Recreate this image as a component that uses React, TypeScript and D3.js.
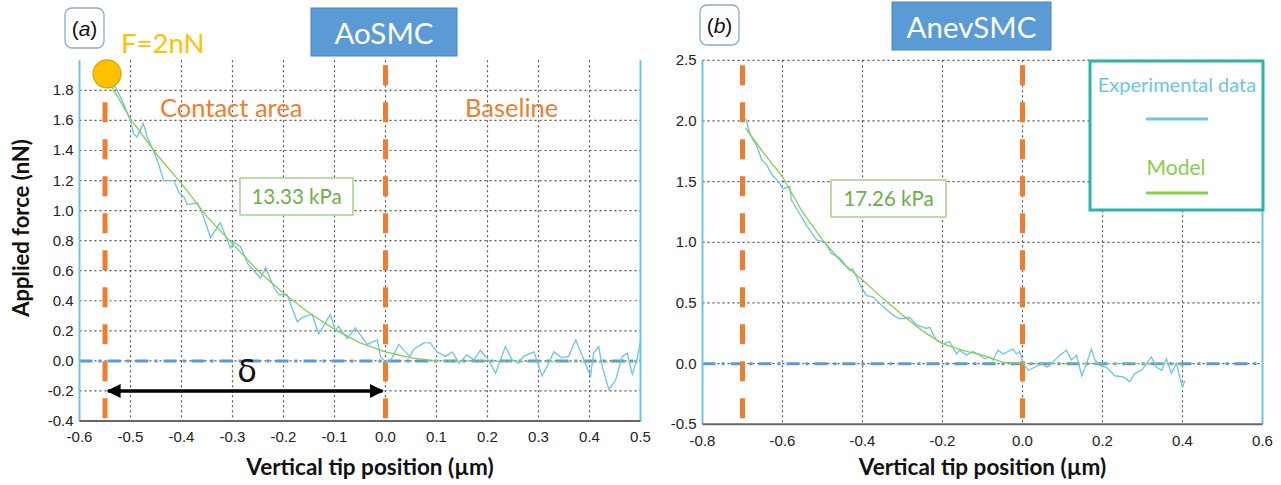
import * as d3 from 'd3';

// panel (a) AoSMC
const xTicksA = [-0.6, -0.5, -0.4, -0.3, -0.2, -0.1, 0.0, 0.1, 0.2, 0.3, 0.4, 0.5];
const yTicksA = [-0.4, -0.2, 0.0, 0.2, 0.4, 0.6, 0.8, 1.0, 1.2, 1.4, 1.6, 1.8];
const expA: [number, number][] = [
    [-0.536, 1.83], [-0.529, 1.82], [-0.515, 1.72], [-0.5, 1.6], [-0.494, 1.51], [-0.487, 1.49],
    [-0.475, 1.58], [-0.465, 1.47], [-0.455, 1.4], [-0.445, 1.31], [-0.435, 1.2], [-0.415, 1.2],
    [-0.405, 1.12], [-0.395, 1.09], [-0.389, 1.04], [-0.369, 1.05], [-0.359, 0.98], [-0.343, 0.82],
    [-0.324, 0.92], [-0.304, 0.75], [-0.297, 0.79], [-0.284, 0.76], [-0.271, 0.65], [-0.245, 0.55],
    [-0.235, 0.62], [-0.219, 0.49], [-0.209, 0.44], [-0.193, 0.44], [-0.173, 0.26], [-0.163, 0.29],
    [-0.144, 0.31], [-0.131, 0.18], [-0.108, 0.31], [-0.098, 0.2], [-0.092, 0.23], [-0.075, 0.15],
    [-0.059, 0.22], [-0.036, 0.11], [-0.016, 0.14], [-0.01, 0.03], [0.003, -0.015], [0.013, 0.02],
    [0.026, 0.11], [0.039, 0.06], [0.048, 0.03], [0.056, 0.08], [0.066, 0.1], [0.075, 0.12],
    [0.088, 0.12], [0.101, 0.06], [0.118, 0.03], [0.131, 0.06], [0.144, -0.015], [0.16, 0.04],
    [0.173, 0.007], [0.186, 0.07], [0.199, 0.02], [0.216, -0.08], [0.235, 0.095], [0.248, 0.007],
    [0.261, -0.015], [0.271, 0.03], [0.291, 0.06], [0.307, -0.1], [0.32, -0.015], [0.33, 0.06],
    [0.346, 0.02], [0.359, 0.03], [0.373, 0.14], [0.389, 0.007], [0.402, -0.1], [0.408, 0.05],
    [0.418, 0.095], [0.425, -0.04], [0.438, -0.19], [0.451, -0.13], [0.464, 0.03], [0.474, 0.05],
    [0.484, -0.09], [0.493, 0.007], [0.5, 0.13],
];
const modelA: [number, number][] = [
    [-0.536, 1.82], [-0.5, 1.61], [-0.45, 1.38], [-0.4, 1.18], [-0.35, 0.96], [-0.3, 0.78],
    [-0.25, 0.6], [-0.2, 0.45], [-0.15, 0.32], [-0.1, 0.21], [-0.05, 0.12], [0.0, 0.06],
    [0.05, 0.02], [0.1, 0.0],
];
const modelTailA: [number, number][] = [[0.1, 0.0], [0.5, -0.01]];

// panel (b) AnevSMC
const xTicksB = [-0.8, -0.6, -0.4, -0.2, 0.0, 0.2, 0.4, 0.6];
const yTicksB = [-0.5, 0.0, 0.5, 1.0, 1.5, 2.0, 2.5];
const expB: [number, number][] = [
    [-0.692, 2.02], [-0.68, 1.88], [-0.665, 1.8], [-0.652, 1.68], [-0.64, 1.64], [-0.625, 1.55],
    [-0.61, 1.5], [-0.598, 1.44], [-0.582, 1.46], [-0.578, 1.35], [-0.56, 1.25], [-0.54, 1.14],
    [-0.515, 1.02], [-0.494, 1.0], [-0.478, 0.91], [-0.457, 0.87], [-0.432, 0.77], [-0.424, 0.78],
    [-0.403, 0.63], [-0.39, 0.56], [-0.374, 0.55], [-0.349, 0.47], [-0.324, 0.4], [-0.307, 0.37],
    [-0.282, 0.38], [-0.265, 0.32], [-0.24, 0.29], [-0.232, 0.3], [-0.215, 0.19], [-0.198, 0.165],
    [-0.182, 0.18], [-0.165, 0.08], [-0.157, 0.11], [-0.14, 0.07], [-0.124, 0.1], [-0.107, 0.07],
    [-0.094, 0.04], [-0.082, 0.055], [-0.074, 0.03], [-0.061, 0.11], [-0.048, 0.08], [-0.036, 0.1],
    [-0.024, 0.12], [-0.015, 0.08], [-0.007, 0.1], [0.002, 0.0], [0.014, -0.055], [0.031, -0.03],
    [0.047, 0.0], [0.062, -0.03], [0.077, 0.015], [0.093, 0.07], [0.11, 0.11], [0.122, 0.03],
    [0.135, 0.07], [0.148, -0.1], [0.16, 0.0], [0.172, 0.12], [0.181, 0.03], [0.193, -0.015],
    [0.21, -0.03], [0.231, -0.1], [0.252, -0.11], [0.268, -0.15], [0.281, -0.08], [0.298, -0.055],
    [0.31, 0.0], [0.322, 0.055], [0.335, -0.03], [0.348, -0.055], [0.36, 0.04], [0.372, -0.08],
    [0.385, 0.0], [0.393, -0.11], [0.4, -0.19], [0.406, -0.14],
];
const modelB: [number, number][] = [
    [-0.692, 1.94], [-0.65, 1.75], [-0.6, 1.54], [-0.55, 1.25], [-0.5, 1.02], [-0.45, 0.83],
    [-0.4, 0.69], [-0.35, 0.54], [-0.3, 0.4], [-0.25, 0.27], [-0.2, 0.165], [-0.15, 0.11],
    [-0.1, 0.07], [-0.05, 0.013], [0.0, 0.0],
];
const modelTailB: [number, number][] = [[0.0, 0.0], [0.4, 0.0]];

const CYAN = '#6cc6e2';
const GREEN = '#86cf4e';
const ORANGE = '#ed7d31';
const BLUE = '#5b9bd5';
const TXT = "Lato, 'Open Sans', sans-serif";
const NUM = "'Liberation Sans', Arial, sans-serif";

type P = [number, number];

// d3.format puts a unicode minus in, the original uses a plain hyphen
const fmt = (v: number) => d3.format('.1f')(v).replace('\u2212', '-');

function Panel({ x, y, xTicks, yTicks, exp, model, tail, dashes, xLab, tickY }: any) {
    const [x0, x1] = x.range();
    const [y0, y1] = y.range();
    const line = d3.line<P>().x((d) => x(d[0])).y((d) => y(d[1]));
    const gx = xTicks.slice(1, -1);
    const gy = yTicks.slice(1);
    return (
        <g>
            <defs>
                <clipPath id={'c' + x0}>
                    <rect x={x0} y={y1} width={x1 - x0 + 1} height={y0 - y1} />
                </clipPath>
            </defs>
            {gx.map((t: number) => (
                <line key={'gx' + t} x1={x(t)} x2={x(t)} y1={y1} y2={y0} stroke="#555" strokeWidth={1.2} strokeDasharray="2 3" />
            ))}
            {gy.map((t: number) => (
                <line key={'gy' + t} x1={x0} x2={x1} y1={y(t)} y2={y(t)} stroke="#555" strokeWidth={1.2} strokeDasharray="2 3" />
            ))}
            <line x1={x0} x2={x1} y1={y(0)} y2={y(0)} stroke={BLUE} strokeWidth={3} strokeDasharray="13 6 3 6" />
            {dashes.map((d: number) => (
                <line key={'o' + d} x1={x(d)} x2={x(d)} y1={y1 + 5} y2={y0} stroke={ORANGE} strokeWidth={5} strokeDasharray="20 17" />
            ))}
            <g clipPath={`url(#c${x0})`}>
                <path d={line(exp) || ''} fill="none" stroke={CYAN} strokeWidth={1.3} />
                <path d={line(model) || ''} fill="none" stroke={GREEN} strokeWidth={1.3} />
                <path d={line(tail) || ''} fill="none" stroke={GREEN} strokeWidth={1.3} strokeDasharray="3 3" />
            </g>
            <line x1={x0} x2={x0} y1={y1} y2={y0} stroke={CYAN} strokeWidth={2} />
            <line x1={x1} x2={x1} y1={y1} y2={y0} stroke={CYAN} strokeWidth={2} />
            <line x1={x0} x2={x1} y1={y0} y2={y0} stroke="#666" strokeWidth={2} />
            {yTicks.map((t: number) => (
                <text key={'yt' + t} x={x0 - 6} y={y(t) + 5} textAnchor="end" fontFamily={NUM} fontSize={15} fill="#222">
                    {fmt(t)}
                </text>
            ))}
            {xTicks.map((t: number) => (
                <text key={'xt' + t} x={x(t)} y={tickY} textAnchor="middle" fontFamily={NUM} fontSize={15} fill="#222">
                    {fmt(t)}
                </text>
            ))}
            <text x={(x0 + x1) / 2 + xLab} y={475} textAnchor="middle" fontFamily={TXT} fontWeight={700} fontSize={22.5} fill="#111">
                Vertical tip position (µm)
            </text>
        </g>
    );
}

function Tag({ x, y, label }: { x: number; y: number; label: string }) {
    return (
        <g>
            <rect x={x} y={y} width={39} height={40} rx={7} fill="#fff" stroke="#8ea9c8" strokeWidth={1.3} />
            <text x={x + 19.5} y={y + 28} textAnchor="middle" fontFamily={NUM} fontSize={21} fill="#111">
                (<tspan fontStyle="italic">{label}</tspan>)
            </text>
        </g>
    );
}

function Title({ x, y, w, label }: { x: number; y: number; w: number; label: string }) {
    return (
        <g>
            <rect x={x} y={y} width={w} height={48} fill={BLUE} stroke="#4a86c0" strokeWidth={1} />
            <text x={x + w / 2} y={y + 36} textAnchor="middle" fontFamily={TXT} fontSize={29.5} fill="#fff">
                {label}
            </text>
        </g>
    );
}

function KpaBox({ x, y, w, label }: { x: number; y: number; w: number; label: string }) {
    return (
        <g>
            <rect x={x} y={y} width={w} height={37} fill="#fff" stroke="#a9d18e" strokeWidth={1.5} />
            <text x={x + w / 2} y={y + 26} textAnchor="middle" fontFamily={TXT} fontSize={20.5} fill="#6ab04c">
                {label}
            </text>
        </g>
    );
}

export default function App() {
    const xa = d3.scaleLinear().domain([-0.6, 0.5]).range([79.5, 640.5]);
    const ya = d3.scaleLinear().domain([-0.4, 2.0]).range([421, 60.3]);
    const xb = d3.scaleLinear().domain([-0.8, 0.6]).range([702.5, 1262.5]);
    const yb = d3.scaleLinear().domain([-0.5, 2.5]).range([424.3, 60.3]);

    return (
        <svg width={1281} height={485} style={{ position: 'absolute', left: 0, top: 0, background: '#fff' }}>
            <Panel x={xa} y={ya} xTicks={xTicksA} yTicks={yTicksA} exp={expA} model={modelA} tail={modelTailA}
                dashes={[-0.55, 0.0]} xLab={10} tickY={442} />
            <Panel x={xb} y={yb} xTicks={xTicksB} yTicks={yTicksB} exp={expB} model={modelB} tail={modelTailB}
                dashes={[-0.7, 0.0]} xLab={0} tickY={446} />

            {/* panel a annotations */}
            <Tag x={65} y={8} label="a" />
            <Title x={311} y={8} w={146} label="AoSMC" />
            <text x={121} y={53} fontFamily={TXT} fontSize={27.5} fill="#ffc000">F=2nN</text>
            <circle cx={xa(-0.546)} cy={ya(1.91)} r={14} fill="#ffc000" stroke="#d9a400" strokeWidth={1.2} />
            <text x={160} y={117} fontFamily={TXT} fontSize={25.5} fill={ORANGE}>Contact area</text>
            <text x={465} y={117} fontFamily={TXT} fontSize={25.5} fill={ORANGE}>Baseline</text>
            <KpaBox x={240} y={178} w={113} label="13.33 kPa" />
            <text x={247} y={382} textAnchor="middle" fontFamily="'DejaVu Sans', sans-serif" fontSize={32} fill="#111">δ</text>
            <defs>
                <marker id="ah" viewBox="0 0 10 10" refX={9} refY={5} markerWidth={4} markerHeight={4} orient="auto-start-reverse">
                    <path d="M0,0 L10,5 L0,10 z" fill="#000" />
                </marker>
            </defs>
            <line x1={xa(-0.55) + 3} x2={xa(0) - 3} y1={ya(-0.2)} y2={ya(-0.2)} stroke="#000" strokeWidth={3.5}
                markerStart="url(#ah)" markerEnd="url(#ah)" />
            <text x={22} y={228} transform="rotate(-90 22 228)" textAnchor="middle" dy={7} fontFamily={TXT} fontWeight={700} fontSize={22} fill="#111">
                Applied force (nN)
            </text>

            {/* panel b annotations */}
            <Tag x={700} y={5} label="b" />
            <Title x={892} y={2} w={159} label="AnevSMC" />
            <KpaBox x={831} y={180} w={115} label="17.26 kPa" />
            <rect x={1090} y={61} width={173} height={149} fill="#fff" stroke="#2bb5a5" strokeWidth={3} />
            <text x={1177} y={92} textAnchor="middle" fontFamily={TXT} fontSize={20} fill={CYAN}>Experimental data</text>
            <line x1={1146} x2={1208} y1={119} y2={119} stroke={CYAN} strokeWidth={3} />
            <text x={1176} y={175} textAnchor="middle" fontFamily={TXT} fontSize={21} fill={GREEN}>Model</text>
            <line x1={1146} x2={1208} y1={193} y2={193} stroke={GREEN} strokeWidth={3} />
        </svg>
    );
}
